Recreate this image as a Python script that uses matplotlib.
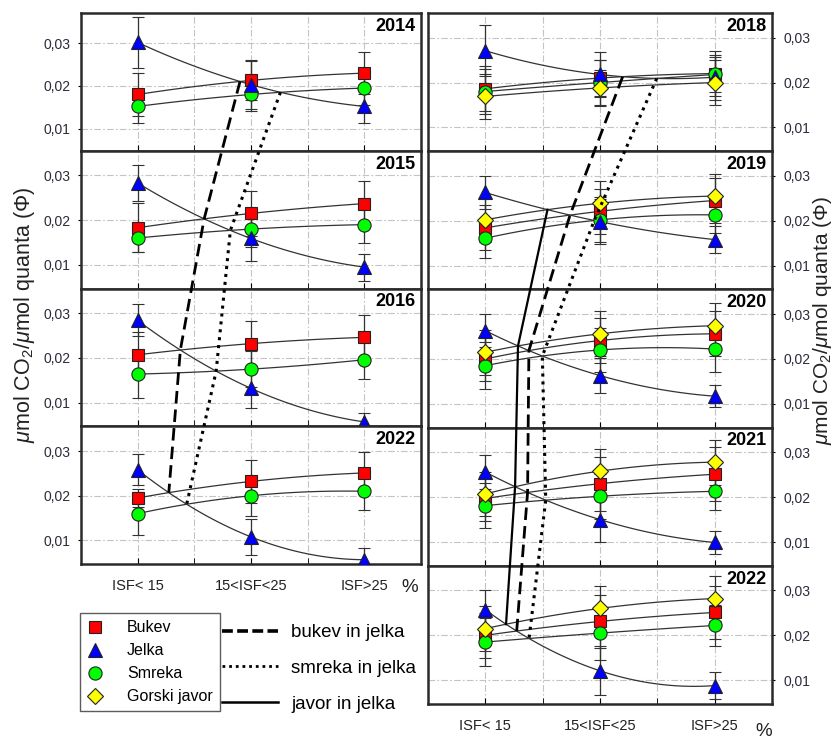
import matplotlib

matplotlib.use("Agg")
import matplotlib.pyplot as plt
import numpy as np
from matplotlib.lines import Line2D

plt.rcParams["font.family"] = ["Liberation Sans", "DejaVu Sans"]
plt.rcParams["mathtext.fontset"] = "custom"
plt.rcParams["mathtext.rm"] = "Liberation Sans"
plt.rcParams["mathtext.it"] = "Liberation Sans:italic"

# ---------------------------------------------------------------------------
# Data (keyed by column + year)
# ---------------------------------------------------------------------------
categories = ["ISF< 15", "15<ISF<25", "ISF>25"]
left_panels = ["L2014", "L2015", "L2016", "L2022"]
right_panels = ["R2018", "R2019", "R2020", "R2021", "R2022"]

bukev = {
    "L2014": [0.0180, 0.0213, 0.0230], "L2015": [0.0183, 0.0215, 0.0237],
    "L2016": [0.0207, 0.0232, 0.0246], "L2022": [0.0195, 0.0232, 0.0251],
    "R2018": [0.0186, 0.0210, 0.0220], "R2019": [0.0184, 0.0221, 0.0245],
    "R2020": [0.0200, 0.0241, 0.0256], "R2021": [0.0197, 0.0230, 0.0251],
    "R2022": [0.0200, 0.0231, 0.0251],
}
bukev_err = {
    "L2014": [0.0050, 0.0045, 0.0050], "L2015": [0.0055, 0.0050, 0.0050],
    "L2016": [0.0050, 0.0050, 0.0050], "L2022": [0.0020, 0.0048, 0.0047],
    "R2018": [0.0050, 0.0040, 0.0050], "R2019": [0.0050, 0.0050, 0.0050],
    "R2020": [0.0050, 0.0050, 0.0050], "R2021": [0.0050, 0.0060, 0.0060],
    "R2022": [0.0050, 0.0060, 0.0060],
}
jelka = {
    "L2014": [0.0302, 0.0203, 0.0152], "L2015": [0.0283, 0.0159, 0.0095],
    "L2016": [0.0284, 0.0132, 0.0057], "L2022": [0.0258, 0.0108, 0.0057],
    "R2018": [0.0271, 0.0218, 0.0212], "R2019": [0.0263, 0.0198, 0.0158],
    "R2020": [0.0263, 0.0163, 0.0117], "R2021": [0.0256, 0.0150, 0.0099],
    "R2022": [0.0257, 0.0121, 0.0088],
}
jelka_err = {
    "L2014": [0.0060, 0.0058, 0.0040], "L2015": [0.0040, 0.0050, 0.0030],
    "L2016": [0.0036, 0.0043, 0.0020], "L2022": [0.0035, 0.0040, 0.0027],
    "R2018": [0.0057, 0.0050, 0.0050], "R2019": [0.0037, 0.0050, 0.0030],
    "R2020": [0.0037, 0.0040, 0.0025], "R2021": [0.0037, 0.0050, 0.0025],
    "R2022": [0.0043, 0.0055, 0.0030],
}
smreka = {
    "L2014": [0.0152, 0.0180, 0.0195], "L2015": [0.0160, 0.0180, 0.0190],
    "L2016": [0.0164, 0.0175, 0.0196], "L2022": [0.0160, 0.0200, 0.0210],
    "R2018": [0.0180, 0.0200, 0.0218], "R2019": [0.0161, 0.0202, 0.0213],
    "R2020": [0.0185, 0.0220, 0.0222], "R2021": [0.0181, 0.0202, 0.0213],
    "R2022": [0.0185, 0.0205, 0.0222],
}
smreka_err = {
    "L2014": [0.0040, 0.0038, 0.0040], "L2015": [0.0032, 0.0040, 0.0040],
    "L2016": [0.0054, 0.0040, 0.0044], "L2022": [0.0048, 0.0045, 0.0042],
    "R2018": [0.0050, 0.0050, 0.0040], "R2019": [0.0043, 0.0050, 0.0040],
    "R2020": [0.0053, 0.0050, 0.0050], "R2021": [0.0050, 0.0050, 0.0042],
    "R2022": [0.0053, 0.0060, 0.0045],
}
javor = {
    "R2018": [0.0169, 0.0188, 0.0200], "R2019": [0.0202, 0.0239, 0.0255],
    "R2020": [0.0215, 0.0256, 0.0274], "R2021": [0.0207, 0.0258, 0.0278],
    "R2022": [0.0215, 0.0260, 0.0282],
}
javor_err = {
    "R2018": [0.0050, 0.0040, 0.0050], "R2019": [0.0050, 0.0050, 0.0050],
    "R2020": [0.0050, 0.0050, 0.0050], "R2021": [0.0050, 0.0050, 0.0050],
    "R2022": [0.0050, 0.0050, 0.0050],
}

# ---------------------------------------------------------------------------
# Layout / style
# ---------------------------------------------------------------------------
FIG_W, FIG_H = 835, 739
LEFT_X = (81, 421)
RIGHT_X = (428, 772)
TOP = 13
LEFT_H = 137.8
RIGHT_H = 138.2
YLIM = (0.0047, 0.0355)
YLIM_FIRST_LEFT = (0.0048, 0.0371)
TICK_COLOR = "#2b2b3b"
LINE_COLOR = "#333333"

species = [
    ("Bukev", bukev, bukev_err, "s", "#ff0000", 9),
    ("Smreka", smreka, smreka_err, "o", "#00ff00", 9.5),
    ("Jelka", jelka, jelka_err, "^", "#0000ff", 10),
    ("Gorski javor", javor, javor_err, "D", "#ffff00", 8.5),
]
X = np.array([1.0, 2.0, 3.0])


def fig_rect(xr, top_px, h_px):
    return [xr[0] / FIG_W, 1 - (top_px + h_px) / FIG_H,
            (xr[1] - xr[0]) / FIG_W, h_px / FIG_H]


def draw_panel(ax, key, ylim, side, bottom):
    for name, vals, errs, marker, color, ms in species:
        if key not in vals:
            continue
        coef = np.polyfit(X, vals[key], 2)
        xs = np.linspace(1, 3, 80)
        ax.plot(xs, np.polyval(coef, xs), color=LINE_COLOR, lw=0.9, zorder=2)
        ax.errorbar(X, vals[key], yerr=errs[key], fmt=marker, ms=ms,
                    mfc=color, mec="#222222", mew=0.8, ecolor=LINE_COLOR,
                    elinewidth=0.9, capsize=4, capthick=0.9, zorder=3)
    ax.set_xlim(0.5, 3.5)
    ax.set_ylim(*ylim)
    ax.set_yticks([0.01, 0.02, 0.03])
    ax.set_yticklabels(["0,01", "0,02", "0,03"], color=TICK_COLOR, fontsize=10)
    ax.set_xticks([1, 2, 3])
    ax.set_xticks([1.5, 2.5], minor=True)
    if bottom:
        ax.set_xticklabels(categories, fontsize=10.5, color="#222222")
    else:
        ax.set_xticklabels([])
    ax.tick_params(axis="x", which="both", direction="in", length=4,
                   pad=11, top=False)
    ax.tick_params(axis="y", direction="out", length=2.5, width=0.8, pad=5)
    if side == "right":
        ax.yaxis.tick_right()
        ax.tick_params(axis="y", direction="out", length=2.5, width=0.8, pad=6)
    ax.grid(True, which="both", color="#c4c4c4", lw=0.8,
            linestyle=(0, (6, 2, 1.5, 2)))
    ax.set_axisbelow(True)
    for sp in ax.spines.values():
        sp.set_linewidth(1.8)
        sp.set_color("#2a2a2a")
    ax.text(0.985, 0.965, key[1:], transform=ax.transAxes, ha="right",
            va="top", fontsize=13, fontweight="bold", zorder=6,
            bbox=dict(facecolor="white", edgecolor="none", pad=0.5))


def crossing(key, other):
    if key not in other:
        return None
    diff = np.polyfit(X, other[key], 2) - np.polyfit(X, jelka[key], 2)
    roots = [r.real for r in np.roots(diff)
             if abs(r.imag) < 1e-9 and 1.0 <= r.real <= 3.0]
    if not roots:
        return None
    xr = roots[0]
    return xr, np.polyval(np.polyfit(X, jelka[key], 2), xr)


fig = plt.figure(figsize=(FIG_W / 100, FIG_H / 100), dpi=100)

axes = {}
for i, key in enumerate(left_panels):
    ax = fig.add_axes(fig_rect(LEFT_X, TOP + i * LEFT_H, LEFT_H))
    draw_panel(ax, key, YLIM_FIRST_LEFT if i == 0 else YLIM, "left",
               i == len(left_panels) - 1)
    axes[key] = ax
for i, key in enumerate(right_panels):
    ax = fig.add_axes(fig_rect(RIGHT_X, TOP + i * RIGHT_H, RIGHT_H))
    draw_panel(ax, key, YLIM, "right", i == len(right_panels) - 1)
    axes[key] = ax

# connecting lines through the crossing points with jelka, year to year
link_styles = [
    (bukev, dict(ls=(0, (4.5, 2.2)), lw=2.0)),
    (smreka, dict(ls=(0, (1.0, 1.6)), lw=2.2)),
    (javor, dict(ls="-", lw=1.6)),
]
to_fig = fig.transFigure.inverted()
for column in (left_panels, right_panels):
    for other, style in link_styles:
        pts = []
        for key in column:
            c = crossing(key, other)
            if c is None:
                continue
            pts.append(to_fig.transform(axes[key].transData.transform(c)))
        if len(pts) < 2:
            continue
        pts = np.array(pts)
        fig.add_artist(Line2D(pts[:, 0], pts[:, 1], transform=fig.transFigure,
                              color="black", zorder=5, **style))

label = r"$\mu$mol CO$_2$/$\mu$mol quanta ($\Phi$)"
fig.text(25 / FIG_W, 1 - 315 / FIG_H, label, rotation=90, ha="center",
         va="center", fontsize=15.5, color="#222222")
fig.text(822 / FIG_W, 1 - 320 / FIG_H, label, rotation=90, ha="center",
         va="center", fontsize=15, color="#222222")
fig.text(410 / FIG_W, 1 - 588 / FIG_H, "%", ha="center", va="center",
         fontsize=13.5, color="#222222")
fig.text(764 / FIG_W, 1 - 731 / FIG_H, "%", ha="center", va="center",
         fontsize=13.5, color="#222222")

marker_handles = [
    Line2D([], [], ls="none", marker=m, ms=ms, mfc=c, mec="#222222",
           mew=0.8, label=n)
    for n, _, _, m, c, ms in (species[0], species[2], species[1], species[3])
]
leg1 = fig.legend(handles=marker_handles, loc="upper left",
                  bbox_to_anchor=(80 / FIG_W, 1 - 613 / FIG_H),
                  frameon=True, fancybox=False, edgecolor="#333333",
                  fontsize=11.5, handlelength=1.0, handletextpad=1.5,
                  borderpad=0.45, labelspacing=0.5, borderaxespad=0)
leg1.get_frame().set_linewidth(1.0)

line_handles = [
    Line2D([], [], color="black", label="bukev in jelka", ls=(0, (3, 1.2)), lw=2.6),
    Line2D([], [], color="black", label="smreka in jelka", ls=(0, (1, 1.4)), lw=2.0),
    Line2D([], [], color="black", label="javor in jelka", ls="-", lw=1.8),
]
fig.legend(handles=line_handles, loc="upper left",
           bbox_to_anchor=(222 / FIG_W, 1 - 624 / FIG_H), frameon=False,
           fontsize=13.5, handlelength=3.0, handletextpad=0.7,
           labelspacing=1.0, borderaxespad=0, borderpad=0)

fig.savefig("out.png", dpi=100)
